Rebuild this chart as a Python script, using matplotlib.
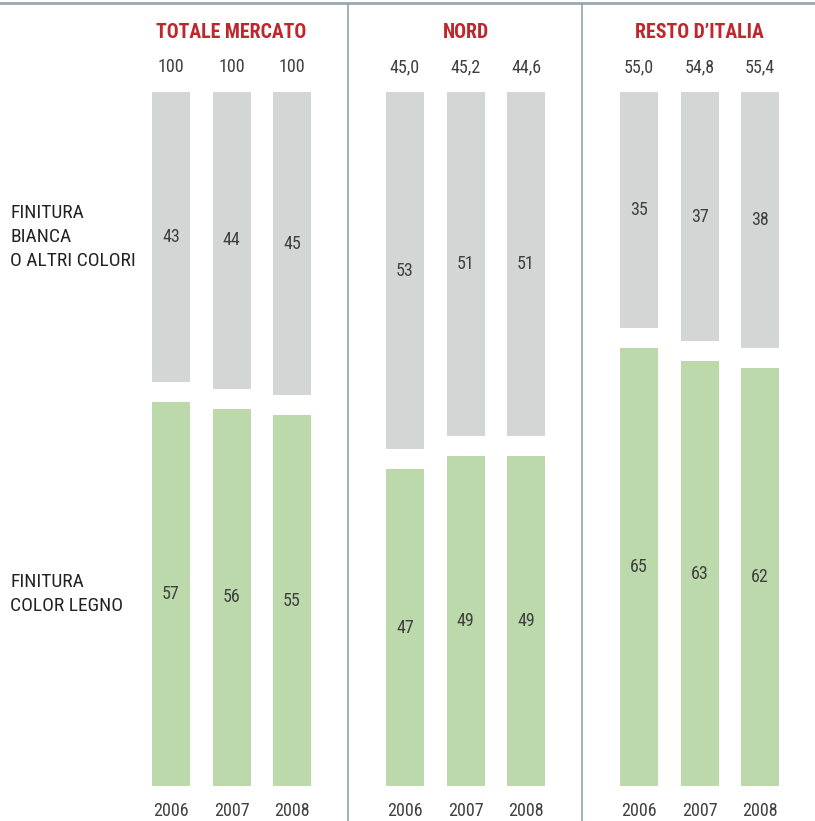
import matplotlib
matplotlib.use("Agg")
import matplotlib.pyplot as plt
from matplotlib import font_manager
from matplotlib.lines import Line2D

# ---- data ----
groups = ["TOTALE MERCATO", "NORD", "RESTO D\u2019ITALIA"]
years = ["2006", "2007", "2008"]
totals = [["100", "100", "100"], ["45,0", "45,2", "44,6"], ["55,0", "54,8", "55,4"]]
legno = [[57, 56, 55], [47, 49, 49], [65, 63, 62]]
bianca = [[43, 44, 45], [53, 51, 51], [35, 37, 38]]
row_labels = ["FINITURA\nBIANCA\nO ALTRI COLORI", "FINITURA\nCOLOR LEGNO"]

# ---- style ----
names = {f.name for f in font_manager.fontManager.ttflist}
FONT = "DejaVu Sans"
for cand in ["Roboto Condensed", "Liberation Sans Narrow", "Archivo Narrow",
             "Barlow Semi Condensed", "Asap Condensed"]:
    if cand in names:
        FONT = cand
        break
plt.rcParams["font.family"] = [FONT, "DejaVu Sans"]

GRAY = "#d4d5d5"
GREEN = "#bcd9ab"
RED = "#c0272d"
TXT = "#404040"
LINE = "#8c9ba6"

W, H = 815, 821
fig = plt.figure(figsize=(W / 100, H / 100), dpi=100)

bar_top_px, bar_bot_px = 92, 786
ax = fig.add_axes([0, (H - bar_bot_px) / H, 1, (bar_bot_px - bar_top_px) / H])
gap = 20 / (bar_bot_px - bar_top_px - 20) * 100
ax.set_xlim(0, W)
ax.set_ylim(0, 100 + gap)
ax.axis("off")

first_center = 171
step = 60.5
gstep = 234
bw = 38
NUM = 13

for g in range(3):
    for i in range(3):
        x = first_center + g * gstep + i * step
        lg = legno[g][i]
        bi = bianca[g][i]
        ax.bar(x, lg, width=bw, bottom=0, color=GREEN, linewidth=0)
        ax.bar(x, bi, width=bw, bottom=lg + gap, color=GRAY, linewidth=0)
        ax.text(x, lg / 2, str(lg), ha="center", va="center", fontsize=NUM, color=TXT)
        ax.text(x, lg + gap + bi / 2, str(bi), ha="center", va="center", fontsize=NUM, color=TXT)
        fx = x / W
        fig.text(fx, 1 - 67 / H, totals[g][i], ha="center", va="center", fontsize=NUM, color=TXT)
        fig.text(fx, 1 - 811 / H, years[i], ha="center", va="center", fontsize=NUM, color=TXT)
    cx = (first_center + g * gstep + step) / W
    fig.text(cx, 1 - 33 / H, groups[g], ha="center", va="center", fontsize=14.2,
             fontweight="bold", color=RED)

# row labels aligned with the TOTALE MERCATO segments
ax.text(10, legno[0][0] + gap + bianca[0][0] / 2, row_labels[0], ha="left", va="center",
        fontsize=14, color="#222222", linespacing=1.45)
ax.text(10, legno[0][0] / 2, row_labels[1], ha="left", va="center",
        fontsize=14, color="#222222", linespacing=1.45)

# decorations
fig.add_artist(Line2D([0, 1], [1 - 3.5 / H, 1 - 3.5 / H], transform=fig.transFigure,
                      color="#9aa8b1", linewidth=2))
for xp in (348, 582):
    fig.add_artist(Line2D([xp / W, xp / W], [0, 1 - 4 / H], transform=fig.transFigure,
                          color=LINE, linewidth=1.1))

fig.savefig("out.png", dpi=100)
